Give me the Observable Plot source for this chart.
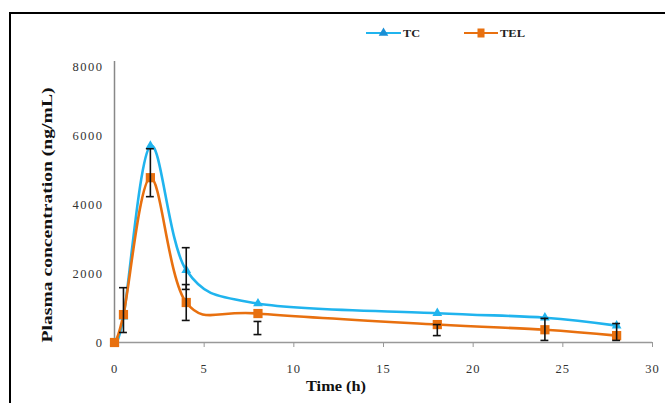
<!DOCTYPE html>
<html>
<head>
<meta charset="utf-8">
<script src="https://cdn.jsdelivr.net/npm/d3@7"></script>
<script src="https://cdn.jsdelivr.net/npm/@observablehq/plot@0.6"></script>
<style>
  html, body { margin: 0; padding: 0; background: #fff; overflow: hidden; }
  #wrap { position: relative; width: 665px; height: 403px; overflow: hidden; }
  #frame { position: absolute; left: 9px; top: 12px; width: 700px; height: 430px;
           border-left: 2.5px solid #000; border-top: 2.5px solid #000; pointer-events: none; }
  #overlay { position: absolute; left: 0; top: 0; }
  #chart svg g[aria-label="y-axis tick label"] text { letter-spacing: 1.5px; }
  #chart svg g[aria-label="x-axis tick label"] text { letter-spacing: 1px; }
</style>
</head>
<body>
<div id="wrap">
  <div id="chart"></div>
  <svg id="overlay" width="665" height="403"></svg>
  <div id="frame"></div>
</div>
<script>
// ---- data ----
const times = [0, 0.5, 2, 4, 8, 18, 24, 28];
const tcValues  = [0, 750, 5700, 2100, 1130, 850, 720, 490];
const telValues = [0, 810, 4780, 1160, 840, 520, 370, 200];
// black error bars as seen in the figure
const errTimes = [0.5, 2, 4, 4, 8, 18, 24, 28];
const errLow   = [290, 4230, 1540, 640, 230, 200, 60, 60];
const errHigh  = [1590, 5620, 2750, 1680, 610, 520, 700, 550];
const xTicks = [0, 5, 10, 15, 20, 25, 30];
const yTicks = [0, 2000, 4000, 6000, 8000];
const seriesNames = ["TC", "TEL"];
const xLabel = "Time (h)";
const yLabel = "Plasma concentration (ng/mL)";

const tc  = times.map((t, i) => ({t, v: tcValues[i]}));
const tel = times.map((t, i) => ({t, v: telValues[i]}));
const errs = errTimes.map((t, i) => ({t, lo: errLow[i], hi: errHigh[i]}));

const blue = "#20B4EE", blueDark = "#1a8fd6", orange = "#E8700F";
const capHalf = 0.22;

const chart = Plot.plot({
  width: 665, height: 403,
  marginLeft: 114, marginRight: 13, marginTop: 61, marginBottom: 61,
  style: {fontFamily: "'Liberation Serif', 'DejaVu Serif', serif", fontSize: "12.5px", color: "#333", background: "transparent"},
  x: {domain: [0, 30], ticks: xTicks},
  y: {domain: [0, 8150], ticks: yTicks},
  marks: [
    Plot.ruleY([0], {stroke: "#999", strokeWidth: 1.5}),
    Plot.ruleX([0], {stroke: "#888", strokeWidth: 1.5}),
    Plot.axisX({ticks: xTicks, tickSize: 5, tickPadding: 17, stroke: "#999", label: null, tickFormat: d => String(d)}),
    Plot.axisY({ticks: yTicks, tickSize: 0, tickPadding: 11, label: null, tickFormat: d => String(d)}),
    Plot.line(tc, {x: "t", y: "v", stroke: blue, strokeWidth: 2.6, curve: "cardinal"}),
    Plot.line(tel, {x: "t", y: "v", stroke: orange, strokeWidth: 2.6, curve: "cardinal"}),
    Plot.dot(tc, {x: "t", y: "v", symbol: "triangle", r: 3.6, fill: blue, stroke: null}),
    Plot.dot(tel, {x: "t", y: "v", symbol: "square", r: 5.2, fill: orange, stroke: null}),
    Plot.ruleX(errs, {x: "t", y1: "lo", y2: "hi", stroke: "#111", strokeWidth: 1.6}),
    Plot.ruleY(errs, {y: "lo", x1: d => d.t - capHalf, x2: d => d.t + capHalf, stroke: "#111", strokeWidth: 1.6}),
    Plot.ruleY(errs, {y: "hi", x1: d => d.t - capHalf, x2: d => d.t + capHalf, stroke: "#111", strokeWidth: 1.6})
  ]
});
document.getElementById("chart").appendChild(chart);

// ---- overlay: axis titles and legend ----
const ov = d3.select("#overlay");
const serif = "'Liberation Serif', 'DejaVu Serif', serif";
ov.append("text").text(xLabel)
  .attr("x", 336).attr("y", 391).attr("text-anchor", "middle")
  .attr("font-family", serif).attr("font-weight", "bold").attr("font-size", 14)
  .attr("textLength", 60).attr("lengthAdjust", "spacingAndGlyphs").attr("fill", "#111");
ov.append("text").text(yLabel)
  .attr("transform", "translate(52,215) rotate(-90)").attr("text-anchor", "middle")
  .attr("font-family", serif).attr("font-weight", "bold").attr("font-size", 14)
  .attr("textLength", 255).attr("lengthAdjust", "spacingAndGlyphs").attr("fill", "#111");

// legend
const lg = [
  {name: seriesNames[0], x0: 366, x1: 401, color: blue, mark: "tri", tx: 403, tl: 17},
  {name: seriesNames[1], x0: 464, x1: 498, color: orange, mark: "sq", tx: 500, tl: 25}
];
lg.forEach(l => {
  const y = 33;
  ov.append("line").attr("x1", l.x0).attr("x2", l.x1).attr("y1", y).attr("y2", y)
    .attr("stroke", l.color).attr("stroke-width", 2.2);
  const cx = (l.x0 + l.x1) / 2;
  if (l.mark === "tri") {
    ov.append("path").attr("d", d3.symbol(d3.symbolTriangle, 40)()).attr("transform", `translate(${cx},${y})`).attr("fill", blueDark);
  } else {
    ov.append("rect").attr("x", cx - 3.5).attr("y", y - 4.5).attr("width", 7).attr("height", 9).attr("fill", orange);
  }
  ov.append("text").text(l.name).attr("x", l.tx).attr("y", y + 4)
    .attr("font-family", serif).attr("font-weight", "bold").attr("font-size", 11)
    .attr("textLength", l.tl).attr("lengthAdjust", "spacingAndGlyphs").attr("fill", "#222");
});
</script>
</body>
</html>
